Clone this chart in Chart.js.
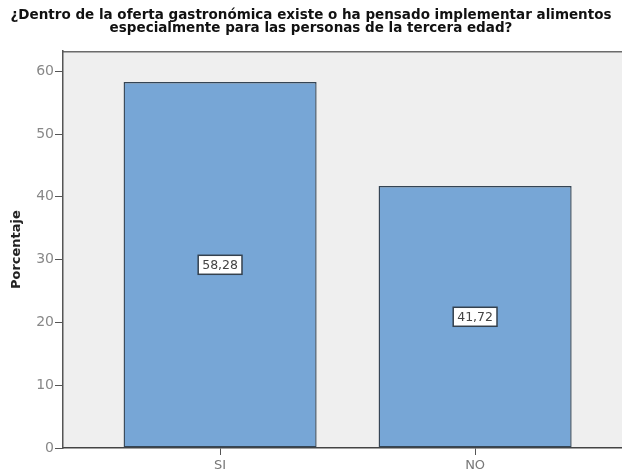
<!DOCTYPE html>
<html>
<head>
<meta charset="utf-8">
<script src="https://cdn.jsdelivr.net/npm/chart.js@4/dist/chart.umd.min.js"></script>
<style>
  html, body { margin: 0; padding: 0; background: #fff; }
  #wrap { width: 622px; height: 476px; }
</style>
</head>
<body>
<div id="wrap"><canvas id="c" width="622" height="476"></canvas></div>
<script>
const titleLines = ['¿Dentro de la oferta gastronómica existe o ha pensado implementar alimentos', 'especialmente para las personas de la tercera edad?'];
const categories = ['SI', 'NO'];
const percentages = [58.28, 41.72];
const yTicks = [0, 10, 20, 30, 40, 50, 60];
const yTitle = 'Porcentaje';

const FONT = '"DejaVu Sans", Verdana, sans-serif';

// plot background + top frame, SPSS style
const plotBg = {
    id: 'plotBg',
    beforeDraw(chart) {
        const { ctx, chartArea: a } = chart;
        ctx.save();
        ctx.fillStyle = '#efefef';
        ctx.fillRect(a.left, a.top, a.right - a.left, a.bottom - a.top);
        ctx.strokeStyle = '#6b6b6b';
        ctx.lineWidth = 1.5;
        ctx.beginPath();
        ctx.moveTo(a.left, a.top + 0.5);
        ctx.lineTo(a.right, a.top + 0.5);
        ctx.stroke();
        ctx.restore();
    }
};

// boxed value labels in the middle of every bar
const boxLabels = {
    id: 'boxLabels',
    afterDatasetsDraw(chart) {
        const { ctx } = chart;
        const meta = chart.getDatasetMeta(0);
        ctx.save();
        ctx.font = '12.5px ' + FONT;
        ctx.textAlign = 'center';
        ctx.textBaseline = 'middle';
        meta.data.forEach((bar, i) => {
            const txt = percentages[i].toFixed(2).replace('.', ',');
            const cy = (bar.y + bar.base) / 2;
            const w = ctx.measureText(txt).width + 8;
            const h = 19;
            ctx.fillStyle = '#ffffff';
            ctx.fillRect(bar.x - w / 2, cy - h / 2, w, h);
            ctx.strokeStyle = '#34414e';
            ctx.lineWidth = 1.5;
            ctx.strokeRect(bar.x - w / 2, cy - h / 2, w, h);
            ctx.fillStyle = '#444';
            ctx.fillText(txt, bar.x, cy + 1);
        });
        ctx.restore();
    }
};

new Chart(document.getElementById('c'), {
    type: 'bar',
    data: {
        datasets: [{
            data: percentages.map((v, i) => ({ x: i + 1, y: v })),
            backgroundColor: '#77a6d6',
            borderColor: '#344454',
            borderWidth: 1.4,
            borderSkipped: false,
            barPercentage: 0.757,
            categoryPercentage: 1,
        }]
    },
    options: {
        responsive: false,
        animation: false,
        layout: { padding: 0 },
        plugins: {
            legend: { display: false },
            tooltip: { enabled: false },
            title: {
                display: true,
                text: titleLines,
                color: '#111',
                font: { family: FONT, size: 13.5, weight: 'bold', lineHeight: 0.97 },
                padding: { top: 9, bottom: 16 },
            },
        },
        scales: {
            x: {
                type: 'linear',
                offset: false,
                min: 0.384,
                max: 2.576,
                afterBuildTicks: axis => { axis.ticks = categories.map((c, i) => ({ value: i + 1 })); },
                afterFit: axis => { axis.height = 28; },
                ticks: {
                    callback: v => categories[v - 1],
                    color: '#777',
                    font: { family: FONT, size: 13 },
                    padding: 3,
                    maxRotation: 0,
                    autoSkip: false,
                },
                grid: { offset: false, drawOnChartArea: false, tickLength: 7, color: '#555', lineWidth: 1 },
                border: { color: '#444', width: 1.5 },
            },
            y: {
                min: 0,
                max: 63.2,
                afterBuildTicks: axis => { axis.ticks = yTicks.map(v => ({ value: v })); },
                afterFit: axis => { axis.width = 63; },
                ticks: {
                    color: '#888',
                    font: { family: FONT, size: 14 },
                    padding: 1,
                },
                grid: { drawOnChartArea: false, tickLength: 8, color: '#555', lineWidth: 1 },
                border: { color: '#555', width: 1.5 },
                title: {
                    display: true,
                    text: yTitle,
                    color: '#222',
                    font: { family: FONT, size: 13, weight: 'bold' },
                    padding: { top: 9, bottom: 0 },
                },
            },
        },
    },
    plugins: [plotBg, boxLabels],
});
</script>
</body>
</html>
